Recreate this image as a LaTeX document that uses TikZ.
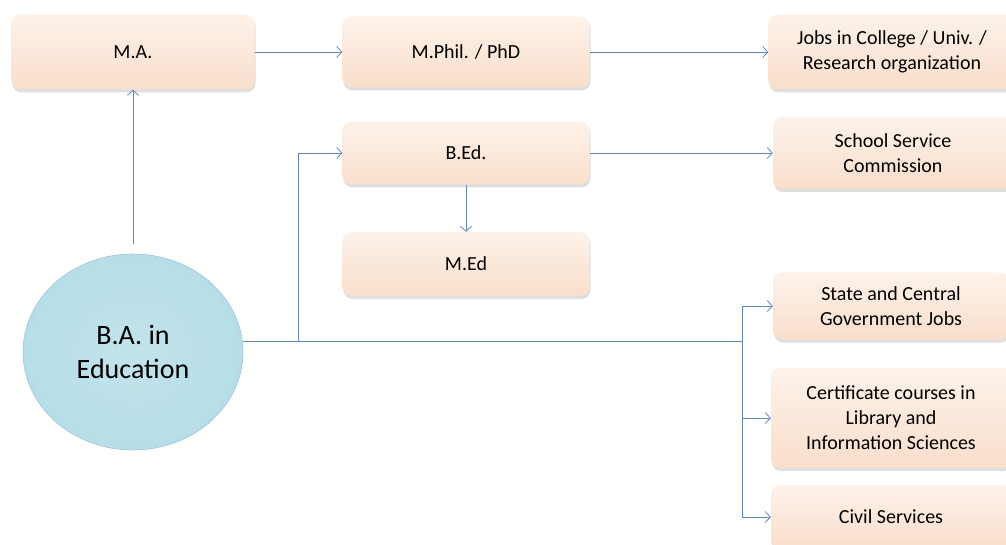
\documentclass[tikz,border=0pt]{standalone}
\usepackage{fontspec}
\setmainfont{Carlito}
\usetikzlibrary{arrows.meta,shapes.geometric,shadows}
\definecolor{peach}{RGB}{249,222,203}
\definecolor{peachlight}{RGB}{253,242,234}
\definecolor{skyblue}{RGB}{183,222,232}
\definecolor{skyrim}{RGB}{160,200,214}
\definecolor{linkblue}{RGB}{98,133,186}
\tikzset{
	course/.style={draw=none, rounded corners=9pt, top color=peachlight, bottom color=peach,
		drop shadow={opacity=0.25, shadow xshift=1pt, shadow yshift=-3pt},
		minimum width=247pt, align=center, font=\fontsize{20}{25}\selectfont},
	degree/.style={ellipse, draw=skyrim, line width=0.6pt, inner color=skyblue!85, outer color=skyblue,
		minimum width=220pt, minimum height=196pt, align=center, font=\fontsize{28}{34}\selectfont},
	link/.style={draw=linkblue, line width=0.8pt, -{Straight Barb[length=5pt,width=11pt]}},
	trunk/.style={draw=linkblue, line width=0.8pt}
}
\begin{document}
\begin{tikzpicture}[x=1pt,y=-1pt]
	\clip (0,0) rectangle (1006,545);
	\fill[white] (0,0) rectangle (1006,545);
	% boxes
	\node[course, minimum width=243pt, minimum height=75pt] (ma) at (133,52) {M.A.};
	\node[course, minimum height=71pt] (mphil) at (466,52) {M.Phil. / PhD};
	\node[course, minimum height=75pt] (jobs) at (892,52) {Jobs in College / Univ. /\\Research organization};
	\node[course, minimum height=63pt] (bed) at (466,153) {B.Ed.};
	\node[course, minimum width=240pt, minimum height=72pt] (school) at (893,153) {School Service\\Commission};
	\node[course, minimum height=64pt] (med) at (466,264) {M.Ed};
	\node[course, minimum width=236pt, minimum height=67pt] (state) at (891,306) {State and Central\\Government Jobs};
	\node[course, minimum width=240pt, minimum height=100pt] (cert) at (891,418) {Certificate courses in\\Library and\\Information Sciences};
	\node[course, minimum width=240pt, minimum height=64pt] (civil) at (891,517) {Civil Services};
	\node[degree] (ba) at (133,352) {B.A. in\\Education};
	% connectors
	\coordinate (split) at (298,341);
	\coordinate (fork) at (742,341);
	\draw[link] ([yshift=10pt]ba.north) -- (ma.south);
	\draw[link] (ma.east) -- (mphil.west);
	\draw[link] (mphil.east) -- (jobs.west);
	\draw[link] (bed.east) -- (school.west);
	\draw[link] (bed.south) -- (med.north);
	\draw[trunk] (ba.east |- split) -- (fork);
	\draw[link] (split) |- (bed.west);
	\draw[link] (fork) |- (state.west);
	\draw[link] (fork) |- (cert.west);
	\draw[link] (fork) |- (civil.west);
\end{tikzpicture}
\end{document}
